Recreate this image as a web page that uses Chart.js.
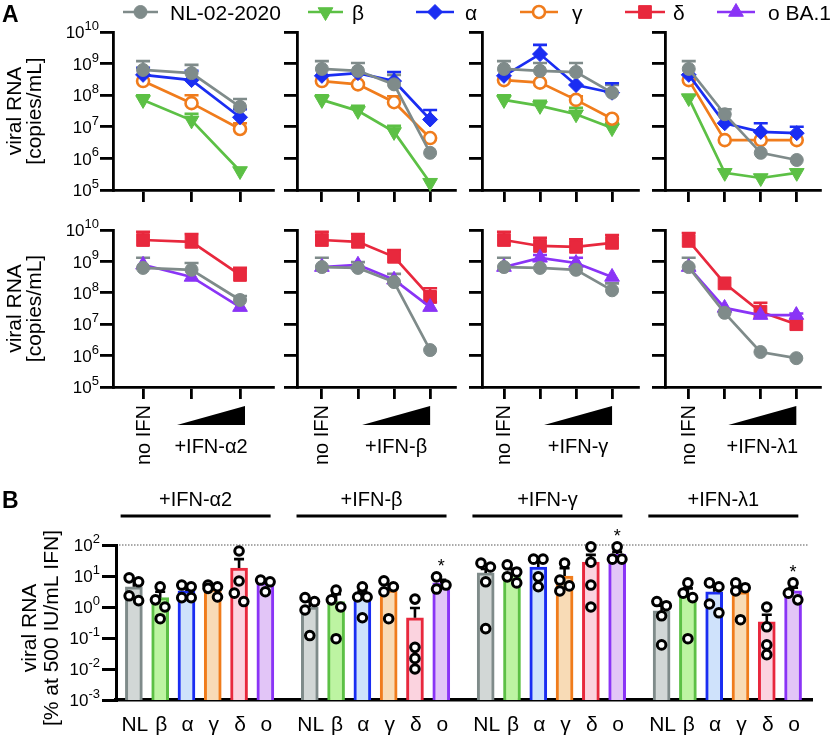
<!DOCTYPE html>
<html><head><meta charset="utf-8">
<script src="https://cdn.jsdelivr.net/npm/chart.js@4.4.1/dist/chart.umd.min.js"></script>
<style>
html,body{margin:0;padding:0;background:#fff;}
#wrap{position:relative;width:830px;height:735px;overflow:hidden;background:#fff;}
#wrap canvas{position:absolute;left:0;top:0;}
</style></head><body><div id="wrap"></div>
<script>
// ================= DATA =================
const ifnNames = ['+IFN-α2', '+IFN-β', '+IFN-γ', '+IFN-λ1'];
const variantNames = ['NL-02-2020', 'β', 'α', 'γ', 'δ', 'o BA.1'];
const barLabels = ['NL', 'β', 'α', 'γ', 'δ', 'o'];
const doseStart = 'no IFN';

// Panel A, top row (copies/mL), one inner array per IFN panel (α2, β, γ, λ1)
const topNL      = [[6.3e8,5.0e8,4.3e7],[6.8e8,5.9e8,2.2e8,1.5e6],[6.8e8,5.9e8,5.4e8,1.2e8],[6.8e8,2.5e7,1.5e6,8.9e5]];
const topNLsd    = [[1.2e9,9.1e8,7.6e7],[1.2e9,1.05e9,4.4e8,null],[1.2e9,1.05e9,1.05e9,2.1e8],[1.2e9,3.6e7,null,null]];
const topBeta    = [[7.1e7,1.6e7,4.0e5],[7.1e7,3.2e7,6.9e6,1.7e5],[7.1e7,4.6e7,2.5e7,9.1e6],[8.1e7,3.5e5,2.4e5,3.5e5]];
const topBetaSd  = [[1.0e8,2.6e7,null],[1.0e8,4.6e7,1.07e7,null],[1.0e8,6.6e7,4.0e7,1.3e7],[1.0e8,null,null,null]];
const topAlpha   = [[4.4e8,3.0e8,2.0e7],[4.1e8,5.0e8,2.8e8,1.7e7],[4.1e8,2.0e9,2.1e8,1.2e8],[4.4e8,1.3e7,6.9e6,6.3e6]];
const topAlphaSd = [[7.3e8,5.9e8,3.6e7],[null,null,5.4e8,3.4e7],[null,3.9e9,null,2.4e8],[null,null,1.3e7,1.0e7]];
const topGamma   = [[2.8e8,5.6e7,8.5e6],[2.8e8,2.2e8,6.0e7,4.4e6],[3.0e8,2.5e8,7.1e7,1.8e7],[3.0e8,3.8e6,3.8e6,3.8e6]];
const topGammaSd = [[null,1.0e8,1.3e7],[null,null,9.3e7,null],[null,null,9.3e7,null],[null,null,null,null]];

// Panel A, bottom row
const botNL        = [[6.2e8,5.4e8,5.9e7],[6.6e8,6.2e8,2.2e8,1.5e6],[6.6e8,6.2e8,5.4e8,1.2e8],[6.6e8,2.3e7,1.3e6,8.3e5]];
const botNLsd      = [[1.3e9,8.9e8,7.9e7],[1.3e9,9.5e8,4.0e8,null],[1.3e9,null,null,2.0e8],[1.3e9,null,null,null]];
const botDelta     = [[4.8e9,4.2e9,3.7e8],[4.8e9,4.2e9,1.4e9,7.4e7],[4.8e9,3.1e9,2.9e9,3.9e9],[4.5e9,2.0e8,2.5e7,1.0e7]];
const botDeltaSd   = [[8.7e9,7.4e9,6.2e8],[8.7e9,7.4e9,2.3e9,1.4e8],[8.7e9,5.6e9,5.1e9,6.9e9],[8.0e9,null,4.8e7,null]];
const botOmicron   = [[7.8e8,3.2e8,3.5e7],[6.6e8,7.8e8,2.6e8,3.5e7],[6.6e8,1.3e9,8.9e8,3.2e8],[6.6e8,3.3e7,1.95e7,1.95e7]];
const botOmicronSd = [[null,null,null],[null,null,null,5.0e7],[null,1.6e9,1.3e9,null],[null,null,null,2.2e7]];

// Panel B (% at 500 IU/mL IFN), one value per IFN group (α2, β, γ, λ1)
const barNL    = [4.5, 1.0, 12.6, 0.75];
const barBeta  = [2.0, 1.5, 13, 2.5];
const barAlpha = [3.3, 2.3, 19.5, 3.1];
const barGamma = [3.8, 3.5, 10, 3.1];
const barDelta = [18, 0.45, 28, 0.33];
const barOmi   = [6.0, 6.0, 51, 3.3];
const sdNL    = [7.5, 1.5, 17, 1.1];
const sdBeta  = [3.1, 2.6, 17, 4.0];
const sdAlpha = [4.2, 3.2, 30, 4.5];
const sdGamma = [4.6, 5.4, 18, 4.5];
const sdDelta = [35, 0.93, 48, 0.56];
const sdOmi   = [7.0, 7.5, 60, 4.2];
const ptsNL    = [[8.7,6.5,2.3,1.6],[2.0,1.5,0.8,0.12],[26,19.5,6.5,0.2],[1.5,1.1,0.52,0.06]];
const ptsBeta  = [[4.5,1.7,1.0,0.42],[3.5,1.7,1.0,0.095],[23,13.5,9.4,6.0],[6.0,2.8,2.0,0.095]];
const ptsAlpha = [[5.1,4.5,2.0,2.0],[4.5,2.1,2.1,0.45],[35,35,9.4,4.5],[6.0,4.5,1.25,0.65]];
const ptsGamma = [[5.1,4.5,4.0,2.1],[7.0,4.5,3.1,0.42],[26,7.4,4.8,3.3],[6.0,4.2,3.3,0.39]];
const ptsDelta = [[64,6.9,2.8,1.5],[1.8,0.05,0.022,0.01],[87,28,5.1,1.0],[1.0,0.23,0.06,0.029]];
const ptsOmi   = [[7.4,6.5,3.1],[9.4,5.1,3.8],[87,35,35],[6.0,2.8,1.7]];
const sigOmi   = ['', '*', '*', '*'];
const refLevel = 100;

// ================= STYLE / LAYOUT =================
const FONT = '"Liberation Sans", Arial, Helvetica, sans-serif';
const W = 830, H = 735;
Chart.defaults.font.family = FONT;
const C = {
  NL:    {color:'#7f8b8a', fill:'#7f8b8a', bar:'#d2d7d6', style:'circle',   r:6.5, rot:0,   bw:1},
  beta:  {color:'#5cc045', fill:'#5cc045', bar:'#bdf4a2', style:'triangle', r:8.5, rot:180, bw:1},
  alpha: {color:'#1a2df2', fill:'#1a2df2', bar:'#cfe2fb', style:'rectRot',  r:7.5, rot:0,   bw:1},
  gamma: {color:'#f07c1c', fill:'#ffffff', bar:'#f8dbb6', style:'circle',   r:6,   rot:0,   bw:2.6},
  delta: {color:'#e8283d', fill:'#e8283d', bar:'#fbd3df', style:'rect',     r:9,   rot:0,   bw:1},
  omi:   {color:'#8a34f6', fill:'#8a34f6', bar:'#e2c5f7', style:'triangle', r:8.5, rot:0,   bw:1}
};
const colX = [[113,273],[297,455],[482,638],[665,822]];
const colXRange = [[-0.62,2.68],[-0.69,3.69],[-0.61,3.72],[-0.66,3.66]];
const rowY = [[32,190],[230,387]];

function makeCanvas(){
  const c = document.createElement('canvas');
  c.width = W; c.height = H; c.style.width = W+'px'; c.style.height = H+'px';
  document.getElementById('wrap').appendChild(c);
  return c;
}
function decades(lo, hi){ const t=[]; for(let e=lo;e<=hi;e++) t.push({value: Math.pow(10,e)}); return t; }

function powLabel(ctx, xr, y, exp, fb, fe){
  ctx.font = fb+'px '+FONT; const wb = ctx.measureText('10').width;
  ctx.font = fe+'px '+FONT; const we = ctx.measureText(String(exp)).width;
  ctx.textAlign = 'left'; ctx.textBaseline = 'alphabetic';
  ctx.font = fb+'px '+FONT; ctx.fillText('10', xr - we - wb, y + fb*0.36);
  ctx.font = fe+'px '+FONT; ctx.fillText(String(exp), xr - we, y - 2);
}

function drawMarker(ctx, st, x, y){
  ctx.save();
  ctx.fillStyle = st.fill; ctx.strokeStyle = st.color; ctx.lineWidth = st.bw;
  ctx.beginPath();
  const r = st.r;
  if (st.style === 'circle') { ctx.arc(x, y, r, 0, Math.PI*2); }
  else if (st.style === 'triangle') {
    let a = st.rot*Math.PI/180;
    for (let k=0;k<3;k++){ const px = x + Math.sin(a)*r, py = y - Math.cos(a)*r; if(k===0) ctx.moveTo(px,py); else ctx.lineTo(px,py); a += 2*Math.PI/3; }
    ctx.closePath();
  } else if (st.style === 'rectRot') {
    ctx.moveTo(x, y-r); ctx.lineTo(x+r, y); ctx.lineTo(x, y+r); ctx.lineTo(x-r, y); ctx.closePath();
  } else { const s = r*Math.SQRT1_2; ctx.rect(x-s, y-s, 2*s, 2*s); }
  ctx.fill(); ctx.stroke();
  ctx.restore();
}

function rotText(ctx, txt, x, y, align){
  ctx.save(); ctx.translate(x, y); ctx.rotate(-Math.PI/2);
  ctx.textAlign = align || 'center'; ctx.textBaseline = 'middle';
  ctx.fillText(txt, 0, 0); ctx.restore();
}

// error bars (upper SD) for the line panels
const errPlugin = {
  id: 'errbars',
  beforeDatasetsDraw(chart){
    const ctx = chart.ctx, ys = chart.scales.y;
    chart.data.datasets.forEach((ds, di) => {
      if (!ds.errTop) return;
      const meta = chart.getDatasetMeta(di);
      ctx.save(); ctx.strokeStyle = ds.borderColor; ctx.lineWidth = 2.6;
      ds.errTop.forEach((e, i) => {
        if (e == null) return;
        const el = meta.data[i]; const ye = ys.getPixelForValue(e);
        ctx.beginPath(); ctx.moveTo(el.x, el.y); ctx.lineTo(el.x, ye);
        ctx.moveTo(el.x-7, ye); ctx.lineTo(el.x+7, ye); ctx.stroke();
      });
      ctx.restore();
    });
  }
};

// tick labels + dose annotations for the line panels
const panelPlugin = {
  id: 'panel',
  afterDraw(chart, args, o){
    const ctx = chart.ctx, xs = chart.scales.x, ys = chart.scales.y, ca = chart.chartArea;
    ctx.save(); ctx.fillStyle = '#000';
    if (o.col === 0) {
      for (let e=5; e<=10; e++) powLabel(ctx, ca.left-14, ys.getPixelForValue(Math.pow(10,e)), e, 17, 13);
    }
    if (o.row === 1) {
      const n = o.n;
      ctx.font = '20px '+FONT;
      rotText(ctx, doseStart, xs.getPixelForValue(0)+1, 405, 'right');
      const right = xs.getPixelForValue(n-1) + (n === 3 ? 5 : 0);
      const left = right - 68;
      ctx.beginPath(); ctx.moveTo(left, 425); ctx.lineTo(right, 425); ctx.lineTo(right, 406); ctx.closePath(); ctx.fill();
      ctx.textAlign = 'center'; ctx.textBaseline = 'middle';
      ctx.fillText(ifnNames[o.col], (left+right)/2, 447);
    }
    ctx.restore();
  }
};

function lineChart(row, col, series){
  const [L, R] = colX[col], [T, B] = rowY[row];
  const n = series[0].values.length;
  return new Chart(makeCanvas(), {
    type: 'line',
    data: { datasets: series.map(s => ({
      label: s.name,
      data: s.values.map((v,i) => ({x:i, y:v})),
      errTop: s.sd,
      borderColor: s.st.color, backgroundColor: s.st.fill,
      pointBackgroundColor: s.st.fill, pointBorderColor: s.st.color,
      pointStyle: s.st.style, pointRadius: s.st.r, pointRotation: s.st.rot,
      pointBorderWidth: s.st.bw, borderWidth: 2.7, tension: 0, clip: false, order: s.order
    })) },
    options: {
      responsive: false, animation: false, devicePixelRatio: 1, events: [],
      layout: { padding: { left: L, top: T, right: W-R, bottom: H-B } },
      plugins: { legend: {display:false}, tooltip: {enabled:false}, title:{display:false},
                 panel: { row, col, n } },
      scales: {
        x: { type:'linear', min: colXRange[col][0], max: colXRange[col][1], offset:false,
             afterBuildTicks: s => { s.ticks = Array.from({length:n}, (_,i)=>({value:i})); },
             afterFit: s => { s.height = 0; },
             ticks: {display:false},
             grid: {display:true, offset:false, drawOnChartArea:false, drawTicks:true, tickLength:12, color:'#000', lineWidth:2.8},
             border: {display:true, color:'#000', width:2.8} },
        y: { type:'logarithmic', min:1e5, max:1e10,
             afterBuildTicks: s => { s.ticks = decades(5,10); },
             afterFit: s => { s.width = 0; },
             ticks: {display:false},
             grid: {display:true, drawOnChartArea:false, drawTicks:true, tickLength:13, color:'#000', lineWidth:2.8},
             border: {display:true, color:'#000', width:2.8} }
      }
    },
    plugins: [errPlugin, panelPlugin]
  });
}

for (let c=0; c<4; c++) {
  lineChart(0, c, [
    {name:variantNames[0], values: topNL[c],    sd: topNLsd[c],    st: C.NL,    order: 0},
    {name:variantNames[2], values: topAlpha[c], sd: topAlphaSd[c], st: C.alpha, order: 1},
    {name:variantNames[3], values: topGamma[c], sd: topGammaSd[c], st: C.gamma, order: 2},
    {name:variantNames[1], values: topBeta[c],  sd: topBetaSd[c],  st: C.beta,  order: 3}
  ]);
  lineChart(1, c, [
    {name:variantNames[0], values: botNL[c],      sd: botNLsd[c],      st: C.NL,    order: 0},
    {name:variantNames[5], values: botOmicron[c], sd: botOmicronSd[c], st: C.omi,   order: 1},
    {name:variantNames[4], values: botDelta[c],   sd: botDeltaSd[c],   st: C.delta, order: 2}
  ]);
}

// ================= PANEL B =================
const bStyles = [C.NL, C.beta, C.alpha, C.gamma, C.delta, C.omi];
const barMeans = [barNL, barBeta, barAlpha, barGamma, barDelta, barOmi];
const barSds = [sdNL, sdBeta, sdAlpha, sdGamma, sdDelta, sdOmi];
const barPts = [ptsNL, ptsBeta, ptsAlpha, ptsGamma, ptsDelta, ptsOmi];
const groupSpan = 6.69;
const xPos = (g, v) => g*groupSpan + v;

function jitterOffsets(vals){
  const idx = vals.map((_,i)=>i).sort((a,b)=>vals[b]-vals[a]);
  const off = new Array(vals.length).fill(0);
  let cluster = [idx[0]];
  const flush = () => { if (cluster.length > 1) cluster.forEach((k,j)=>{ off[k] = (j%2===0 ? -1 : 1)*0.18; }); };
  for (let j=1;j<idx.length;j++){
    const p = idx[j-1], q = idx[j];
    if (Math.log10(vals[p]) - Math.log10(vals[q]) < 0.3) cluster.push(q);
    else { flush(); cluster = [q]; }
  }
  flush();
  return off;
}

const scatterData = [];
barPts.forEach((groups, v) => groups.forEach((pts, g) => {
  const off = jitterOffsets(pts);
  pts.forEach((p, k) => scatterData.push({x: xPos(g, v) + off[k], y: p}));
}));

const barDatasets = barMeans.map((means, v) => ({
  type: 'bar', label: barLabels[v],
  data: means.map((m, g) => ({x: xPos(g, v), y: m})),
  backgroundColor: bStyles[v].bar, borderColor: bStyles[v].color, borderWidth: 3,
  borderSkipped: 'start', barThickness: 17, grouped: false, order: 1
}));

const bPlugin = {
  id: 'bdecor',
  beforeDraw(chart){
    const ctx = chart.ctx, ys = chart.scales.y, ca = chart.chartArea;
    const yr = ys.getPixelForValue(refLevel);
    ctx.save(); ctx.strokeStyle = '#555'; ctx.lineWidth = 1.2; ctx.setLineDash([1.5, 1.5]);
    ctx.beginPath(); ctx.moveTo(ca.left, yr); ctx.lineTo(ca.right - 4, yr); ctx.stroke(); ctx.restore();
  },
  beforeDatasetDraw(chart, args){
    if (args.meta.type !== 'scatter') return;
    const ctx = chart.ctx, xs = chart.scales.x, ys = chart.scales.y;
    ctx.save(); ctx.strokeStyle = '#000'; ctx.lineWidth = 2.6;
    barSds.forEach((sds, v) => sds.forEach((sd, g) => {
      const x = xs.getPixelForValue(xPos(g, v));
      const y0 = ys.getPixelForValue(barMeans[v][g]), y1 = ys.getPixelForValue(sd);
      ctx.beginPath(); ctx.moveTo(x, y0); ctx.lineTo(x, y1); ctx.moveTo(x-5, y1); ctx.lineTo(x+5, y1); ctx.stroke();
    }));
    ctx.restore();
  },
  afterDraw(chart){
    const ctx = chart.ctx, xs = chart.scales.x, ys = chart.scales.y, ca = chart.chartArea;
    ctx.save(); ctx.fillStyle = '#000'; ctx.strokeStyle = '#000';
    // y tick labels
    for (let e=-3; e<=2; e++) powLabel(ctx, ca.left-16, ys.getPixelForValue(Math.pow(10,e)), e, 17, 13);
    // x labels
    ctx.font = '21px '+FONT; ctx.textAlign = 'center'; ctx.textBaseline = 'middle';
    for (let g=0; g<4; g++) for (let v=0; v<6; v++) ctx.fillText(barLabels[v], xs.getPixelForValue(xPos(g, v)) + 1, 725);
    // group headers
    ctx.font = '20px '+FONT;
    for (let g=0; g<4; g++) {
      const c = (xs.getPixelForValue(xPos(g,0)) + xs.getPixelForValue(xPos(g,5)))/2 - 4;
      ctx.lineWidth = 3; ctx.beginPath(); ctx.moveTo(c-75, 516); ctx.lineTo(c+75, 516); ctx.stroke();
      ctx.fillText(ifnNames[g], c, 500);
      if (sigOmi[g]) {
        const top = Math.max(...ptsOmi[g]);
        ctx.font = '18px '+FONT; ctx.textBaseline = 'alphabetic';
        ctx.fillText(sigOmi[g], xs.getPixelForValue(xPos(g,5)), ys.getPixelForValue(top) - 5);
        ctx.font = '20px '+FONT; ctx.textBaseline = 'middle';
      }
    }
    // y title B
    ctx.font = '21px '+FONT;
    rotText(ctx, 'viral RNA', 30, 628);
    rotText(ctx, '[% at 500 IU/mL IFN]', 52, 628);
    // panel A y titles
    for (const [t, b] of rowY) {
      rotText(ctx, 'viral RNA', 15, (t+b)/2);
      rotText(ctx, '[copies/mL]', 35, (t+b)/2);
    }
    // panel letters
    ctx.font = 'bold 23px '+FONT; ctx.textAlign = 'left'; ctx.textBaseline = 'alphabetic';
    ctx.fillText('A', 2, 22);
    ctx.fillText('B', 2, 508);
    // legend
    const legend = [
      {st: C.NL,    x0:123, x1:158, tx:170},
      {st: C.beta,  x0:308, x1:343, tx:352},
      {st: C.alpha, x0:416, x1:454, tx:465},
      {st: C.gamma, x0:520, x1:558, tx:572},
      {st: C.delta, x0:625, x1:665, tx:673},
      {st: C.omi,   x0:717, x1:755, tx:768}
    ];
    ctx.font = '21px '+FONT;
    legend.forEach((it, k) => {
      ctx.strokeStyle = it.st.color; ctx.lineWidth = 2.7;
      ctx.beginPath(); ctx.moveTo(it.x0, 12); ctx.lineTo(it.x1, 12); ctx.stroke();
      drawMarker(ctx, it.st, (it.x0+it.x1)/2, 12);
      ctx.fillStyle = '#000'; ctx.fillText(variantNames[k], it.tx, 19.5);
    });
    ctx.restore();
  }
};

new Chart(makeCanvas(), {
  type: 'bar',
  data: { datasets: [
    { type:'scatter', label:'replicates', data: scatterData, pointRadius: 4.3, pointBorderWidth: 3,
      pointBackgroundColor:'#fff', pointBorderColor:'#000', clip:false, order: 0 },
    ...barDatasets
  ] },
  options: {
    responsive:false, animation:false, devicePixelRatio:1, events: [],
    layout: { padding: { left:116, top:545, right: W-812, bottom: H-700 } },
    plugins: { legend:{display:false}, tooltip:{enabled:false} },
    scales: {
      x: { type:'linear', min:-0.68, max:25.79, offset:false,
           afterFit: s => { s.height = 0; },
           ticks:{display:false}, grid:{display:false, offset:false},
           border:{display:true, color:'#000', width:3.5} },
      y: { type:'logarithmic', min:1e-3, max:1e2,
           afterBuildTicks: s => { s.ticks = decades(-3,2); },
           afterFit: s => { s.width = 0; },
           ticks:{display:false},
           grid:{display:true, drawOnChartArea:false, drawTicks:true, tickLength:14, color:'#000', lineWidth:3},
           border:{display:true, color:'#000', width:3} }
    }
  },
  plugins: [bPlugin]
});
</script></body></html>
